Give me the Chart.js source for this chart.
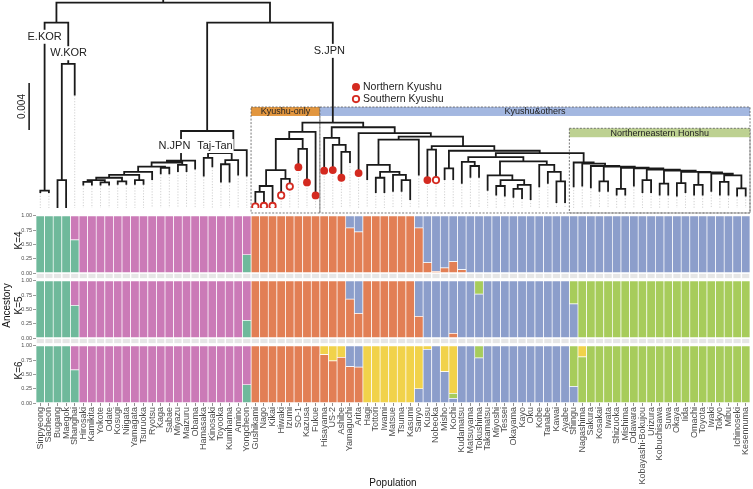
<!DOCTYPE html>
<html>
<head>
<meta charset="utf-8">
<script src="https://cdn.jsdelivr.net/npm/chart.js@4.4.1/dist/chart.umd.min.js"></script>
<style>
  html, body { margin: 0; padding: 0; background: #fff; }
</style>
</head>
<body>
<canvas id="c" width="753" height="489"></canvas>
<script>
// Populations, left to right
const populations = ['Sinpyeong','Sacheon','Bugang','Maegok','Shanghai','Hirosaki','Kamikita','Yokote','Odate','Kosugi',
  'Niigata','Yamagata','Tsuruoka','Ryotsu','Kaga','Sabae','Miyazu','Maizuru','Obama','Hamasaka',
  'Kinosaki','Toyooka','Kumihama','Amino','Yongcheon','Gushikami','Nago','Kikai','Hiwaki','Izumi',
  'SO-1','Kazusa','Fukue','Hisayama','US-2','Ashibe','Yamaguchi','Arita','Hagi','Tottori',
  'Iwami','Matsue','Tsuma','Kasumi','Sanyo','Kusu','Nobeoka','Misho','Kochi','Kudamatsu',
  'Matsuyama','Tokushima','Takamatsu','Miyoshi','Tessei','Okayama','Kayo','Oku','Kobe','Tanabe',
  'Kawai','Ayabe','Shingu','Nagashima','Sakura','Kosakai','Iwata','Shizuoka','Mishima','Odawara',
  'Kobayashi-Bokujou','Urizura','Kobuchisawa','Suwa','Okaya','Iida','Omachi','Toyota','Iwaki','Tokyo',
  'Mibu','Ichinoseki','Kesennuma'];

// Ancestry proportions, K=4
const k4Green = [1,1,1,1,.58,0,0,0,0,0, 0,0,0,0,0,0,0,0,0,0, 0,0,0,0,.32,0,0,0,0,0, 0,0,0,0,0,0,0,0,0,0,
  0,0,0,0,0,0,0,0,0,0, 0,0,0,0,0,0,0,0,0,0, 0,0,0,0,0,0,0,0,0,0, 0,0,0,0,0,0,0,0,0,0, 0,0,0];
const k4Pink = [0,0,0,0,.42,1,1,1,1,1, 1,1,1,1,1,1,1,1,1,1, 1,1,1,1,.68,0,0,0,0,0, 0,0,0,0,0,0,0,0,0,0,
  0,0,0,0,0,0,0,0,0,0, 0,0,0,0,0,0,0,0,0,0, 0,0,0,0,0,0,0,0,0,0, 0,0,0,0,0,0,0,0,0,0, 0,0,0];
const k4Orange = [0,0,0,0,0,0,0,0,0,0, 0,0,0,0,0,0,0,0,0,0, 0,0,0,0,0,1,1,1,1,1, 1,1,1,1,1,1,.79,.72,1,1,
  1,1,1,1,.79,.18,.03,.09,.2,.06, 0,0,0,0,0,0,0,0,0,0, 0,0,0,0,0,0,0,0,0,0, 0,0,0,0,0,0,0,0,0,0, 0,0,0];
const k4Blue = [0,0,0,0,0,0,0,0,0,0, 0,0,0,0,0,0,0,0,0,0, 0,0,0,0,0,0,0,0,0,0, 0,0,0,0,0,0,.21,.28,0,0,
  0,0,0,0,.21,.82,.97,.91,.8,.94, 1,1,1,1,1,1,1,1,1,1, 1,1,1,1,1,1,1,1,1,1, 1,1,1,1,1,1,1,1,1,1, 1,1,1];

// K=5
const k5Green = [1,1,1,1,.57,0,0,0,0,0, 0,0,0,0,0,0,0,0,0,0, 0,0,0,0,.31,0,0,0,0,0, 0,0,0,0,0,0,0,0,0,0,
  0,0,0,0,0,0,0,0,0,0, 0,0,0,0,0,0,0,0,0,0, 0,0,0,0,0,0,0,0,0,0, 0,0,0,0,0,0,0,0,0,0, 0,0,0];
const k5Pink = [0,0,0,0,.43,1,1,1,1,1, 1,1,1,1,1,1,1,1,1,1, 1,1,1,1,.69,0,0,0,0,0, 0,0,0,0,0,0,0,0,0,0,
  0,0,0,0,0,0,0,0,0,0, 0,0,0,0,0,0,0,0,0,0, 0,0,0,0,0,0,0,0,0,0, 0,0,0,0,0,0,0,0,0,0, 0,0,0];
const k5Orange = [0,0,0,0,0,0,0,0,0,0, 0,0,0,0,0,0,0,0,0,0, 0,0,0,0,0,1,1,1,1,1, 1,1,1,1,1,1,.68,.43,1,1,
  1,1,1,1,.38,0,0,0,.08,0, 0,0,0,0,0,0,0,0,0,0, 0,0,0,0,0,0,0,0,0,0, 0,0,0,0,0,0,0,0,0,0, 0,0,0];
const k5Blue = [0,0,0,0,0,0,0,0,0,0, 0,0,0,0,0,0,0,0,0,0, 0,0,0,0,0,0,0,0,0,0, 0,0,0,0,0,0,.32,.57,0,0,
  0,0,0,0,.62,1,1,1,.92,1, 1,.77,1,1,1,1,1,1,1,1, 1,1,.6,0,0,0,0,0,0,0, 0,0,0,0,0,0,0,0,0,0, 0,0,0];
const k5Lime = [0,0,0,0,0,0,0,0,0,0, 0,0,0,0,0,0,0,0,0,0, 0,0,0,0,0,0,0,0,0,0, 0,0,0,0,0,0,0,0,0,0,
  0,0,0,0,0,0,0,0,0,0, 0,.23,0,0,0,0,0,0,0,0, 0,0,.4,1,1,1,1,1,1,1, 1,1,1,1,1,1,1,1,1,1, 1,1,1];

// K=6
const k6Green = [1,1,1,1,.58,0,0,0,0,0, 0,0,0,0,0,0,0,0,0,0, 0,0,0,0,.32,0,0,0,0,0, 0,0,0,0,0,0,0,0,0,0,
  0,0,0,0,0,0,0,0,0,0, 0,0,0,0,0,0,0,0,0,0, 0,0,0,0,0,0,0,0,0,0, 0,0,0,0,0,0,0,0,0,0, 0,0,0];
const k6Pink = [0,0,0,0,.42,1,1,1,1,1, 1,1,1,1,1,1,1,1,1,1, 1,1,1,1,.68,0,0,0,0,0, 0,0,0,0,0,0,0,0,0,0,
  0,0,0,0,0,0,0,0,0,0, 0,0,0,0,0,0,0,0,0,0, 0,0,0,0,0,0,0,0,0,0, 0,0,0,0,0,0,0,0,0,0, 0,0,0];
const k6Orange = [0,0,0,0,0,0,0,0,0,0, 0,0,0,0,0,0,0,0,0,0, 0,0,0,0,0,1,1,1,1,1, 1,1,1,.85,.74,.8,.64,.63,0,0,
  0,0,0,0,0,0,0,0,0,0, 0,0,0,0,0,0,0,0,0,0, 0,0,0,0,0,0,0,0,0,0, 0,0,0,0,0,0,0,0,0,0, 0,0,0];
const k6Blue = [0,0,0,0,0,0,0,0,0,0, 0,0,0,0,0,0,0,0,0,0, 0,0,0,0,0,0,0,0,0,0, 0,0,0,0,0,0,.36,.37,0,0,
  0,0,0,0,.25,.94,1,.55,.08,1, 1,.79,1,1,1,1,1,1,1,1, 1,1,.29,0,0,0,0,0,0,0, 0,0,0,0,0,0,0,0,0,0, 0,0,0];
const k6Lime = [0,0,0,0,0,0,0,0,0,0, 0,0,0,0,0,0,0,0,0,0, 0,0,0,0,0,0,0,0,0,0, 0,0,0,0,0,0,0,0,0,0,
  0,0,0,0,0,0,0,0,.09,0, 0,.21,0,0,0,0,0,0,0,0, 0,0,.71,.81,1,1,1,1,1,1, 1,1,1,1,1,1,1,1,1,1, 1,1,1];
const k6Yellow = [0,0,0,0,0,0,0,0,0,0, 0,0,0,0,0,0,0,0,0,0, 0,0,0,0,0,0,0,0,0,0, 0,0,0,.15,.26,.2,0,0,1,1,
  1,1,1,1,.75,.06,0,.45,.83,0, 0,0,0,0,0,0,0,0,0,0, 0,0,0,.19,0,0,0,0,0,0, 0,0,0,0,0,0,0,0,0,0, 0,0,0];

const ancestryColors = ['#6FB99B', '#CB7AB7', '#E27F55', '#8C9ECB', '#A7CC5B', '#F1D24A'];

// Tree: tip heights (x0.001) and nested [left, right, nodeHeight]; leaves are population numbers
const tipHeights = [1.7,1.7,0.1,0.1,10.0,2.35,2.35,2.35,2.35,2.4, 2.4,2.4,2.4,2.8,3.3,3.3,3.5,3.5,3.7,3.1,
  3.9,2.6,2.6,3.2,3.1,0.55,0.6,0.6,1.5,2.25, 3.9,2.6,1.5,3.6,3.65,3.0,4.25,3.4,2.8,1.7,
  1.7,1.8,1.8,1.1,3.2,2.8,2.8,2.8,2.8,2.5, 3.0,3.0,1.9,1.5,1.4,1.3,1.2,1.1,2.2,2.5,
  0.85,0.85,2.2,2.25,2.1,1.8,1.8,1.5,1.5,2.25, 1.7,1.7,1.5,1.5,1.4,1.7,1.5,1.5,1.8,1.5, 1.5,1.4,1.4];

const korTree = [[1, 2, 1.9], [[3, 4, 2.8], 5, 12.7], 16.2];
const nJpnTree = [[[[[[[[6, 7, 2.65], [8, 9, 2.6], 2.8], [10, 11, 2.7], 3.0], [12, 13, 2.8], 3.25], 14, 3.5],
  [15, 16, 3.85], 3.95], [17, 18, 4.1], 4.3], 19, 4.45];
const tajTanTree = [[[20, 21, 4.7], [[22, 23, 4.15], 24, 4.5], 5.1], 25, 5.35];
const kyushuOnlyTree = [[[[[26, 27, 1.8], 28, 2.3], [29, 30, 2.9], 3.65], [31, 32, 5.45], 6.3], 33, 6.9];
const northKyushuTree = [34, [35, [36, 37, 5.2], 5.8], 6.4];
const sanInTree = [[39, [[40, 41, 3.0], [42, [43, 44, 2.8], 3.25], 3.5], 4.1], 45, 6.25];
const shikokuTree = [[50, [51, 52, 4.0], 4.35],
  [[53, [[54, 55, 2.3], [[56, 57, 2.05], 58, 2.4], 2.8], 3.2], [59, [60, [61, 62, 2.7], 3.5], 4.1], 4.4], 4.75];
const honshuTree = [63, [64, [65, [[66, 67, 2.7], [[68, 69, 2.05], [70, [[71, 72, 2.8], [[73, 74, 2.5], [[75, 76, 2.55],
  [[77, 78, 2.4], [79, [[80, 81, 2.65], [82, 83, 2.1], 3.2], 3.35], 3.45], 3.5], 3.6], 3.7], 3.8], 3.85], 3.95], 4.0], 4.2], 4.3];
const othersTree = [northKyushuTree, [38, [sanInTree, [[46, 47, 5.4], [[48, 49, 3.8], [shikokuTree, honshuTree, 5.1], 5.3], 5.7], 6.5], 6.8], 7.3];
const fullTree = [korTree, [[nJpnTree, tajTanTree, 6.98], [kyushuOnlyTree, othersTree, 7.7], 16.2], 17.9];

const northernKyushu = [31, 32, 33, 34, 35, 36, 38, 46];
const southernKyushu = [26, 27, 28, 29, 30, 47];

// Annotations placed in tree coordinates (x = population index, h = height)
const cladeLabels = [
  { text: 'E.KOR', x: 0.5, h: 15.0 },
  { text: 'W.KOR', x: 3.3, h: 13.6 },
  { text: 'S.JPN', x: 33.6, h: 13.8 },
  { text: 'N.JPN', x: 15.6, h: 5.7 },
  { text: 'Taj-Tan', x: 20.3, h: 5.7 }
];
const groupBoxes = [
  { text: 'Kyushu-only', from: 24.5, to: 32.5, top: 9.02, band: 0.76, color: '#E2963F' },
  { text: 'Kyushu&others', from: 32.5, to: 82.5, top: 9.02, band: 0.76, color: '#A3B7E0' },
  { text: 'Northerneastern Honshu', from: 61.5, to: 82.5, top: 7.21, band: 0.76, color: '#BDD191' }
];

Chart.defaults.font.family = "'Liberation Sans', Arial, Helvetica, sans-serif";

function buildTree(node, segs) {
    if (typeof node === 'number') return { x: node - 1, h: tipHeights[node - 1] };
    const a = buildTree(node[0], segs);
    const b = buildTree(node[1], segs);
    const h = node[2];
    segs.push({ x: a.x, y: a.h }, { x: a.x, y: h }, { x: b.x, y: h }, { x: b.x, y: b.h }, { x: b.x, y: null });
    return { x: (a.x + b.x) / 2, h: h };
}

const treeSegs = [];
const rootNode = buildTree(fullTree, treeSegs);
treeSegs.push({ x: rootNode.x, y: rootNode.h }, { x: rootNode.x, y: rootNode.h + 0.25 });

const tipLines = [];
tipHeights.forEach((h, i) => { tipLines.push({ x: i, y: h }, { x: i, y: 0 }, { x: i, y: null }); });

const panels = [
    { axis: 'yK4', series: [k4Green, k4Pink, k4Orange, k4Blue] },
    { axis: 'yK5', series: [k5Green, k5Pink, k5Orange, k5Blue, k5Lime] },
    { axis: 'yK6', series: [k6Green, k6Pink, k6Orange, k6Blue, k6Lime, k6Yellow] }
];

const datasets = [
    {
        type: 'line', xAxisID: 'xt', yAxisID: 'yTree', order: 0,
        data: northernKyushu.map(n => ({ x: n - 1, y: tipHeights[n - 1] })),
        showLine: false, pointRadius: 3.9, pointBackgroundColor: '#D42A20', pointBorderWidth: 0
    },
    {
        type: 'line', xAxisID: 'xt', yAxisID: 'yTree', order: 0,
        data: southernKyushu.map(n => ({ x: n - 1, y: tipHeights[n - 1] })),
        showLine: false, pointRadius: 3.2, pointBackgroundColor: '#fff', pointBorderColor: '#D42A20', pointBorderWidth: 1.8
    },
    {
        type: 'line', xAxisID: 'xt', yAxisID: 'yTree', order: 1,
        data: treeSegs, borderColor: '#1a1a1a', borderWidth: 1.8, pointRadius: 0, spanGaps: false, tension: 0
    },
    {
        type: 'line', xAxisID: 'xt', yAxisID: 'yTree', order: 2,
        data: tipLines, borderColor: '#c4c4c4', borderWidth: 0.8, borderDash: [1.2, 1.6], pointRadius: 0, spanGaps: false
    }
];

panels.forEach(p => {
    p.series.forEach((vals, k) => {
        datasets.push({
            type: 'bar', xAxisID: 'x', yAxisID: p.axis, order: 3,
            data: vals, backgroundColor: ancestryColors[k],
            borderColor: '#fff', borderWidth: 0.7, borderSkipped: false,
            grouped: false, barPercentage: 1, categoryPercentage: 1
        });
    });
});

// Clade labels, group boxes, legend, scale bar
const annotate = {
    id: 'annotate',
    beforeDatasetsDraw(chart) {
        const { ctx } = chart;
        const xt = chart.scales.xt, yt = chart.scales.yTree;
        ctx.save();
        // light strips below the K=4 and K=5 panels
        ['yK4', 'yK5'].forEach(id => {
            const ys = chart.scales[id];
            const y0 = ys.getPixelForValue(-0.015), y1 = ys.getPixelForValue(-0.09);
            ctx.fillStyle = '#E6E6E6';
            populations.forEach((_, i) => {
                const l = xt.getPixelForValue(i - 0.5) + 0.7, r = xt.getPixelForValue(i + 0.5) - 0.7;
                ctx.fillRect(l, y0, r - l, y1 - y0);
            });
        });
        groupBoxes.forEach(g => {
            const x0 = xt.getPixelForValue(g.from), x1 = xt.getPixelForValue(g.to);
            const yTop = yt.getPixelForValue(g.top), yBand = yt.getPixelForValue(g.top - g.band);
            const yBase = yt.getPixelForValue(0);
            ctx.fillStyle = g.color;
            ctx.fillRect(x0, yTop, x1 - x0, yBand - yTop);
            ctx.setLineDash([2, 1.5]);
            ctx.strokeStyle = '#555';
            ctx.lineWidth = 0.8;
            ctx.strokeRect(x0, yTop, x1 - x0, yBase - yTop);
            ctx.setLineDash([]);
            ctx.fillStyle = '#222';
            ctx.font = "9px 'Liberation Sans', Arial, sans-serif";
            ctx.textAlign = 'center';
            ctx.textBaseline = 'middle';
            ctx.fillText(g.text, (x0 + x1) / 2, (yTop + yBand) / 2 + 0.5);
        });
        ctx.restore();
    },
    afterDatasetsDraw(chart) {
        const { ctx } = chart;
        const xt = chart.scales.xt, yt = chart.scales.yTree;
        ctx.save();
        ctx.font = "11px 'Liberation Sans', Arial, sans-serif";
        ctx.textAlign = 'center';
        ctx.textBaseline = 'middle';
        cladeLabels.forEach(l => {
            const px = xt.getPixelForValue(l.x), py = yt.getPixelForValue(l.h);
            const w = ctx.measureText(l.text).width;
            ctx.fillStyle = '#fff';
            ctx.fillRect(px - w / 2 - 1, py - 7, w + 2, 14);
            ctx.fillStyle = '#222';
            ctx.fillText(l.text, px, py);
        });
        // legend
        const lx = xt.getPixelForValue(36.7);
        const ly1 = yt.getPixelForValue(10.72), ly2 = yt.getPixelForValue(9.70);
        ctx.fillStyle = '#D42A20';
        ctx.beginPath(); ctx.arc(lx, ly1, 4, 0, Math.PI * 2); ctx.fill();
        ctx.fillStyle = '#fff'; ctx.strokeStyle = '#D42A20'; ctx.lineWidth = 1.8;
        ctx.beginPath(); ctx.arc(lx, ly2, 3.2, 0, Math.PI * 2); ctx.fill(); ctx.stroke();
        ctx.fillStyle = '#222';
        ctx.font = "10.5px 'Liberation Sans', Arial, sans-serif";
        ctx.textAlign = 'left';
        ctx.fillText('Northern Kyushu', lx + 7, ly1 + 0.5);
        ctx.fillText('Southern Kyushu', lx + 7, ly2 + 0.5);
        // scale bar
        const sx = xt.getPixelForValue(-1.3);
        ctx.strokeStyle = '#111'; ctx.lineWidth = 1.5;
        ctx.beginPath();
        ctx.moveTo(sx, yt.getPixelForValue(7.06));
        ctx.lineTo(sx, yt.getPixelForValue(11.06));
        ctx.stroke();
        ctx.translate(xt.getPixelForValue(-2.15), yt.getPixelForValue(9.06));
        ctx.rotate(-Math.PI / 2);
        ctx.textAlign = 'center';
        ctx.font = "10px 'Liberation Sans', Arial, sans-serif";
        ctx.fillText('0.004', 0, 0);
        ctx.restore();
    }
};

function kAxis(title, pad) {
    return {
        type: 'linear', axis: 'y', position: 'left', stack: 'v', stackWeight: 65, stacked: true,
        min: 0, max: 1.14,
        afterBuildTicks: s => { s.ticks = [0, 0.25, 0.5, 0.75, 1].map(v => ({ value: v })); },
        afterFit: s => { s.width = 36; s.paddingTop = 0; s.paddingBottom = 0; },
        ticks: { callback: v => v.toFixed(2), font: { size: 5.5 }, color: '#4D4D4D', padding: 1 },
        grid: { drawOnChartArea: false, tickLength: 3, color: '#555', lineWidth: 0.6 },
        border: { display: false },
        title: { display: true, text: title, font: { size: 10, lineHeight: 1.2 }, color: '#111', padding: { top: pad, bottom: 0 } }
    };
}

new Chart(document.getElementById('c'), {
    type: 'bar',
    data: { labels: populations, datasets: datasets },
    options: {
        responsive: false,
        animation: false,
        devicePixelRatio: 1,
        layout: { autoPadding: false, padding: { top: 0, right: 3, bottom: 0, left: 0 } },
        plugins: { legend: { display: false }, tooltip: { enabled: false } },
        scales: {
            x: {
                type: 'category', position: 'bottom', stacked: true, offset: true,
                afterFit: s => { s.height = 86; s.paddingLeft = 0; s.paddingRight = 0; },
                ticks: { autoSkip: false, maxRotation: 90, minRotation: 90, font: { size: 9 }, color: '#4D4D4D', padding: 1 },
                grid: { drawOnChartArea: false, offset: false, tickLength: 3, color: '#444', lineWidth: 0.6 },
                border: { display: false },
                title: { display: true, text: 'Population', font: { size: 10 }, color: '#111', padding: 0 }
            },
            xt: {
                type: 'linear', axis: 'x', position: 'bottom', min: -0.5, max: 82.5,
                offset: false, bounds: 'data', grid: { offset: false }, display: false
            },
            yK6: kAxis('K=6', 13.5),
            yK5: kAxis(['Ancestory', 'K=5'], 1.5),
            yK4: kAxis('K=4', 13.5),
            yTree: {
                type: 'linear', axis: 'y', position: 'left', stack: 'v', stackWeight: 208,
                min: 0.4255, max: 18.13, offset: false, display: false,
                afterFit: s => { s.width = 36; }
            }
        }
    },
    plugins: [annotate]
});
</script>
</body>
</html>
